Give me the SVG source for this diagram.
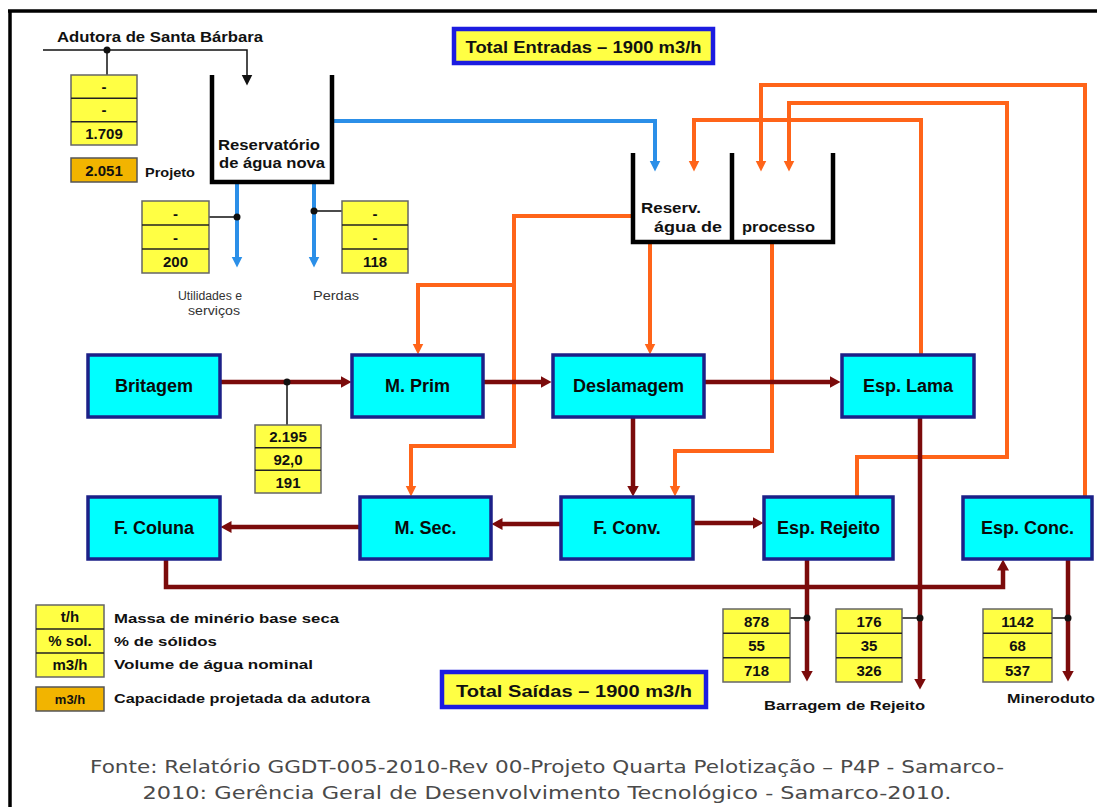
<svg xmlns="http://www.w3.org/2000/svg" width="1097" height="807" viewBox="0 0 1097 807">
<style>
.t{font-family:"Liberation Sans",Arial,sans-serif;font-weight:bold;fill:#111}
.node rect{fill:#00ffff;stroke:#1c2088;stroke-width:3.5}
.node text{font-family:"Liberation Sans",Arial,sans-serif;font-weight:bold;font-size:18px;fill:#0a0a0a;text-anchor:middle}
.dbox rect{fill:#ffff44;stroke:#666;stroke-width:1.5}
.dbox line{stroke:#222;stroke-width:1.5}
.dbox text{font-family:"Liberation Sans",Arial,sans-serif;font-weight:bold;font-size:15px;fill:#111;text-anchor:middle}
.obox{fill:#f2b400;stroke:#555;stroke-width:1.5}
.red{fill:none;stroke:#7b0b0b;stroke-width:4.5}
.or{fill:none;stroke:#ff6419;stroke-width:4}
.bl{fill:none;stroke:#2b8fe8;stroke-width:4}
.bk{fill:none;stroke:#111;stroke-width:1.5}
.wall{fill:none;stroke:#000;stroke-width:4.5}
.tot rect{fill:#ffff44;stroke:#1c1ce0;stroke-width:4.5}
.foot{font-family:"DejaVu Sans",Verdana,sans-serif;font-size:18px;fill:#4a4a4a;text-anchor:middle}
</style>
<defs>
<marker id="ar-red" markerUnits="userSpaceOnUse" markerWidth="12" markerHeight="12" refX="0.5" refY="6" orient="auto"><path d="M0,0 L11,6 L0,12 z" fill="#7b0b0b"/></marker>
<marker id="ar-or" markerUnits="userSpaceOnUse" markerWidth="12" markerHeight="12" refX="0.5" refY="5.5" orient="auto"><path d="M0,0 L11,5.5 L0,11 z" fill="#ff6419"/></marker>
<marker id="ar-bl" markerUnits="userSpaceOnUse" markerWidth="12" markerHeight="12" refX="0.5" refY="5.5" orient="auto"><path d="M0,0 L11,5.5 L0,11 z" fill="#2b8fe8"/></marker>
<marker id="ar-bk" markerUnits="userSpaceOnUse" markerWidth="12" markerHeight="12" refX="0.5" refY="5.5" orient="auto"><path d="M0,0 L11,5.5 L0,11 z" fill="#111"/></marker>
</defs>
<rect width="1097" height="807" fill="#fff"/>
<path d="M8,11 H1097 M10,11 V807" fill="none" stroke="#000" stroke-width="3.5"/>

<g id="connectors">
  <path class="bk" d="M43,50 H247 V75" stroke-width="2" marker-end="url(#ar-bk)"/>
  <path class="bk" d="M107,50 V75"/>
  <path class="bl" d="M332,121 H655 V161" marker-end="url(#ar-bl)"/>
  <path class="bl" d="M237,182 V257" marker-end="url(#ar-bl)"/>
  <path class="bl" d="M314,182 V257" marker-end="url(#ar-bl)"/>
  <path class="bk" d="M237,217 H209 M314,211 H342"/>
  <path class="or" d="M1085,497 V85 H761 V161" marker-end="url(#ar-or)"/>
  <path class="or" d="M857,497 V457 H1007 V103 H789 V161" marker-end="url(#ar-or)"/>
  <path class="or" d="M921,355 V120 H694 V161" marker-end="url(#ar-or)"/>
  <path class="or" d="M633,216 H514 V446 H411 V486" marker-end="url(#ar-or)"/>
  <path class="or" d="M514,285 H418 V344" marker-end="url(#ar-or)"/>
  <path class="or" d="M650,242 V344" marker-end="url(#ar-or)"/>
  <path class="or" d="M772,242 V451 H675 V486" marker-end="url(#ar-or)"/>
  <path class="red" d="M220,382 H341" marker-end="url(#ar-red)"/>
  <path class="red" d="M483,382 H541" marker-end="url(#ar-red)"/>
  <path class="red" d="M704,382 H830" marker-end="url(#ar-red)"/>
  <path class="red" d="M633,417 V486" marker-end="url(#ar-red)"/>
  <path class="red" d="M693,523 H753" marker-end="url(#ar-red)"/>
  <path class="red" d="M561,524 H502" marker-end="url(#ar-red)"/>
  <path class="red" d="M360,527 H231" marker-end="url(#ar-red)"/>
  <path class="red" d="M166,559 V587 H1003 V570" marker-end="url(#ar-red)"/>
  <path class="red" d="M807,559 V671" marker-end="url(#ar-red)"/>
  <path class="red" d="M920,417 V679" marker-end="url(#ar-red)"/>
  <path class="red" d="M1068,559 V671" marker-end="url(#ar-red)"/>
  <path class="bk" d="M287,382 V425 M807,618 H790 M920,618 H902 M1068,618 H1052"/>
  <g fill="#111">
    <circle cx="107" cy="50" r="3.5"/>
    <circle cx="237" cy="217" r="3.5"/>
    <circle cx="314" cy="211" r="3.5"/>
    <circle cx="287" cy="382" r="3.5"/>
    <circle cx="807" cy="618" r="3.5"/>
    <circle cx="920" cy="618" r="3.5"/>
    <circle cx="1068" cy="618" r="3.5"/>
  </g>
</g>

<g id="adutora">
  <text class="t" x="57" y="42" font-size="15" textLength="206" lengthAdjust="spacingAndGlyphs">Adutora de Santa Bárbara</text>
</g>

<g id="total-entradas" class="tot">
  <rect x="454" y="29" width="259" height="34"/>
  <text class="t" x="583.5" y="53" font-size="17" text-anchor="middle" textLength="236" lengthAdjust="spacingAndGlyphs">Total Entradas – 1900 m3/h</text>
</g>

<g id="reservatorio-agua-nova">
  <path class="wall" d="M212,75 V182 H332 V75"/>
  <text class="t" x="218" y="150" font-size="15" textLength="102" lengthAdjust="spacingAndGlyphs">Reservatório</text>
  <text class="t" x="219" y="168" font-size="15" textLength="106" lengthAdjust="spacingAndGlyphs">de água nova</text>
</g>

<g id="reserv-processo">
  <path class="wall" d="M633,153 V242 H833 V153 M732,153 V242"/>
  <text class="t" x="641" y="213" font-size="14" textLength="60" lengthAdjust="spacingAndGlyphs">Reserv.</text>
  <text class="t" x="654" y="232" font-size="14" textLength="68" lengthAdjust="spacingAndGlyphs">água de</text>
  <text class="t" x="742" y="232" font-size="14" textLength="73" lengthAdjust="spacingAndGlyphs">processo</text>
</g>

<g id="data-adutora" class="dbox">
  <rect x="71" y="75" width="66" height="70"/>
  <line x1="71" y1="98.3" x2="137" y2="98.3"/><line x1="71" y1="121.7" x2="137" y2="121.7"/>
  <text x="104" y="92">-</text><text x="104" y="115">-</text><text x="104" y="139">1.709</text>
</g>
<g id="projeto">
  <rect class="obox" x="71" y="158" width="66" height="24"/>
  <text class="t" x="104" y="176" font-size="15" text-anchor="middle">2.051</text>
  <text class="t" x="145" y="177" font-size="13" textLength="50" lengthAdjust="spacingAndGlyphs">Projeto</text>
</g>

<g id="data-utilidades" class="dbox">
  <rect x="142" y="201" width="67" height="72"/>
  <line x1="142" y1="225" x2="209" y2="225"/><line x1="142" y1="249" x2="209" y2="249"/>
  <text x="175.5" y="219">-</text><text x="175.5" y="243">-</text><text x="175.5" y="267">200</text>
</g>
<g id="utilidades-label">
  <text class="t" x="178" y="300" font-size="12" fill="#333" font-weight="normal" textLength="64" lengthAdjust="spacingAndGlyphs" style="font-weight:normal;fill:#333">Utilidades e</text>
  <text class="t" x="188" y="315" font-size="12" textLength="52" lengthAdjust="spacingAndGlyphs" style="font-weight:normal;fill:#333">serviços</text>
</g>
<g id="data-perdas" class="dbox">
  <rect x="342" y="201" width="66" height="72"/>
  <line x1="342" y1="225" x2="408" y2="225"/><line x1="342" y1="249" x2="408" y2="249"/>
  <text x="375" y="219">-</text><text x="375" y="243">-</text><text x="375" y="267">118</text>
</g>
<g id="perdas-label">
  <text class="t" x="313" y="300" font-size="12" textLength="46" lengthAdjust="spacingAndGlyphs" style="font-weight:normal;fill:#333">Perdas</text>
</g>

<g id="britagem" class="node"><rect x="88" y="355" width="132" height="62"/><text x="154" y="392">Britagem</text></g>
<g id="m-prim" class="node"><rect x="352" y="355" width="131" height="62"/><text x="417.5" y="392">M. Prim</text></g>
<g id="deslamagem" class="node"><rect x="553" y="355" width="151" height="62"/><text x="628.5" y="392">Deslamagem</text></g>
<g id="esp-lama" class="node"><rect x="842" y="355" width="132" height="62"/><text x="908" y="392">Esp. Lama</text></g>
<g id="f-coluna" class="node"><rect x="88" y="497" width="132" height="62"/><text x="154" y="534">F. Coluna</text></g>
<g id="m-sec" class="node"><rect x="360" y="497" width="131" height="62"/><text x="425.5" y="534">M. Sec.</text></g>
<g id="f-conv" class="node"><rect x="561" y="497" width="132" height="62"/><text x="627" y="534">F. Conv.</text></g>
<g id="esp-rejeito" class="node"><rect x="764" y="497" width="129" height="62"/><text x="828.5" y="534">Esp. Rejeito</text></g>
<g id="esp-conc" class="node"><rect x="963" y="497" width="129" height="62"/><text x="1027.5" y="534">Esp. Conc.</text></g>

<g id="data-britagem" class="dbox">
  <rect x="255" y="425" width="66" height="68"/>
  <line x1="255" y1="447.7" x2="321" y2="447.7"/><line x1="255" y1="470.3" x2="321" y2="470.3"/>
  <text x="288" y="442">2.195</text><text x="288" y="465">92,0</text><text x="288" y="488">191</text>
</g>
<g id="data-rejeito" class="dbox">
  <rect x="723" y="609" width="67" height="73"/>
  <line x1="723" y1="633.3" x2="790" y2="633.3"/><line x1="723" y1="657.7" x2="790" y2="657.7"/>
  <text x="756.5" y="627">878</text><text x="756.5" y="651">55</text><text x="756.5" y="676">718</text>
</g>
<g id="data-lama" class="dbox">
  <rect x="836" y="609" width="66" height="73"/>
  <line x1="836" y1="633.3" x2="902" y2="633.3"/><line x1="836" y1="657.7" x2="902" y2="657.7"/>
  <text x="869" y="627">176</text><text x="869" y="651">35</text><text x="869" y="676">326</text>
</g>
<g id="data-conc" class="dbox">
  <rect x="983" y="609" width="69" height="73"/>
  <line x1="983" y1="633.3" x2="1052" y2="633.3"/><line x1="983" y1="657.7" x2="1052" y2="657.7"/>
  <text x="1017.5" y="627">1142</text><text x="1017.5" y="651">68</text><text x="1017.5" y="676">537</text>
</g>
<g id="outlet-labels">
  <text class="t" x="764" y="710" font-size="13" textLength="161" lengthAdjust="spacingAndGlyphs">Barragem de Rejeito</text>
  <text class="t" x="1007" y="703" font-size="13" textLength="88" lengthAdjust="spacingAndGlyphs">Mineroduto</text>
</g>

<g id="legend">
  <g class="dbox">
    <rect x="36" y="605" width="68" height="72"/>
    <line x1="36" y1="629" x2="104" y2="629"/><line x1="36" y1="653" x2="104" y2="653"/>
    <text x="70" y="622" font-size="13">t/h</text><text x="70" y="646" font-size="13">% sol.</text><text x="70" y="670" font-size="13">m3/h</text>
  </g>
  <rect class="obox" x="36" y="687" width="68" height="24"/>
  <text class="t" x="70" y="704" font-size="13" text-anchor="middle">m3/h</text>
  <text class="t" x="114" y="623" font-size="13" textLength="225" lengthAdjust="spacingAndGlyphs">Massa de minério base seca</text>
  <text class="t" x="114" y="646" font-size="13" textLength="103" lengthAdjust="spacingAndGlyphs">% de sólidos</text>
  <text class="t" x="114" y="669" font-size="13" textLength="199" lengthAdjust="spacingAndGlyphs">Volume de água nominal</text>
  <text class="t" x="114" y="703" font-size="13" textLength="256" lengthAdjust="spacingAndGlyphs">Capacidade projetada da adutora</text>
</g>

<g id="total-saidas" class="tot">
  <rect x="442" y="672" width="264" height="35"/>
  <text class="t" x="574" y="697" font-size="17" text-anchor="middle" textLength="236" lengthAdjust="spacingAndGlyphs">Total Saídas – 1900 m3/h</text>
</g>

<g id="fonte">
  <text class="foot" x="547" y="773" textLength="914" lengthAdjust="spacingAndGlyphs">Fonte: Relatório GGDT-005-2010-Rev 00-Projeto Quarta Pelotização – P4P - Samarco-</text>
  <text class="foot" x="547" y="799" textLength="809" lengthAdjust="spacingAndGlyphs">2010: Gerência Geral de Desenvolvimento Tecnológico - Samarco-2010.</text>
</g>
</svg>
